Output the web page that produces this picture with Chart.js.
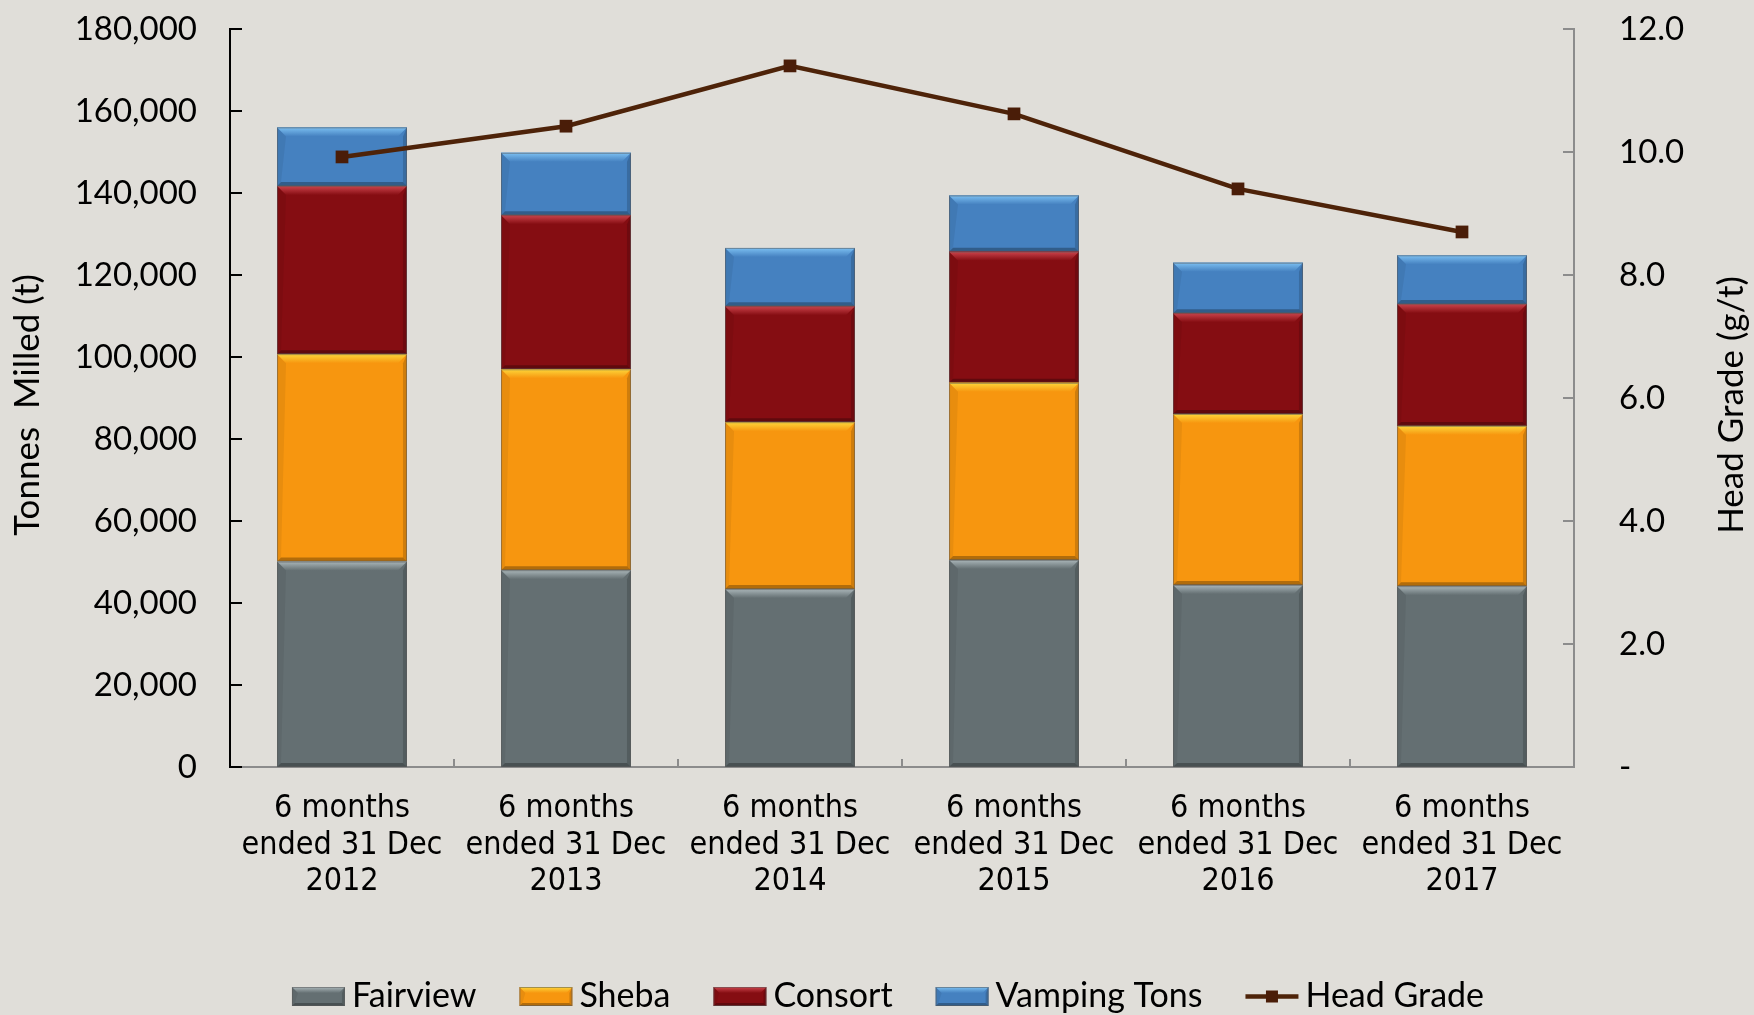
<!DOCTYPE html>
<html><head><meta charset="utf-8">
<script src="https://cdn.jsdelivr.net/npm/chart.js@4.4.1/dist/chart.umd.min.js"></script>
<style>html,body{margin:0;padding:0;background:#e0ded9;overflow:hidden}canvas{display:block}</style>
</head><body>
<canvas id="c" width="1754" height="1015" style="width:1754px;height:1015px"></canvas>
<script>
// ---- data ----
const categories = [
  ["6 months", "ended 31 Dec", "2012"],
  ["6 months", "ended 31 Dec", "2013"],
  ["6 months", "ended 31 Dec", "2014"],
  ["6 months", "ended 31 Dec", "2015"],
  ["6 months", "ended 31 Dec", "2016"],
  ["6 months", "ended 31 Dec", "2017"]
];
const fairview = [50100, 48000, 43400, 50500, 44400, 44100];
const sheba    = [50600, 49000, 40700, 43200, 41700, 39100];
const consort  = [41000, 37600, 28300, 32000, 24600, 29700];
const vamping  = [14300, 15200, 14200, 13700, 12300, 11900];
const headGrade = [9.92, 10.42, 11.40, 10.62, 9.40, 8.70];
const seriesNames = ["Fairview", "Sheba", "Consort", "Vamping Tons", "Head Grade"];
const leftTitle = "Tonnes  Milled (t)";
const rightTitle = "Head Grade (g/t)";

const GILL = "Lato, 'Open Sans', sans-serif";
const NARROW = "'DejaVu Sans Condensed', 'Liberation Sans Narrow', sans-serif";

function poly(ctx, pts) {
  ctx.beginPath(); ctx.moveTo(pts[0][0], pts[0][1]);
  for (let i = 1; i < pts.length; i++) ctx.lineTo(pts[i][0], pts[i][1]);
  ctx.closePath(); ctx.fill();
}
function bevelBox(ctx, L, T, R, B, base, hi, bt, bs) {
  ctx.save();
  ctx.fillStyle = base; ctx.fillRect(L, T, R - L, B - T);
  const g = ctx.createLinearGradient(0, T, 0, T + bt);
  g.addColorStop(0, hi); g.addColorStop(1, base);
  ctx.fillStyle = g; poly(ctx, [[L, T], [R, T], [R - bt, T + bt], [L + bt, T + bt]]);
  ctx.fillStyle = 'rgba(0,0,0,0.16)'; poly(ctx, [[R, T], [R, B], [R - bs, B - bs], [R - bs, T + bt]]);
  ctx.fillStyle = 'rgba(0,0,0,0.28)'; poly(ctx, [[L, B], [R, B], [R - bs, B - bs], [L + bs, B - bs]]);
  ctx.fillStyle = 'rgba(0,0,0,0.06)'; poly(ctx, [[L, T], [L + bt, T + bt], [L + bs, B - bs], [L, B]]);
  ctx.strokeStyle = 'rgba(90,90,90,0.55)'; ctx.lineWidth = 1;
  ctx.strokeRect(L + 0.5, T + 0.5, R - L - 1, B - T - 1);
  ctx.restore();
}

const bgPlugin = {
  id: 'bg',
  beforeDraw(chart) {
    const ctx = chart.ctx; ctx.save(); ctx.fillStyle = '#e0ded9';
    ctx.fillRect(0, 0, chart.width, chart.height); ctx.restore();
  }
};

const bevelPlugin = {
  id: 'bevel',
  afterDatasetDraw(chart, args) {
    const meta = args.meta; if (meta.type !== 'bar') return;
    const ds = chart.data.datasets[args.index];
    const ctx = chart.ctx;
    meta.data.forEach(el => {
      const p = el.getProps(['x', 'y', 'base', 'width'], true);
      const L = p.x - p.width / 2, R = p.x + p.width / 2;
      const T = Math.min(p.y, p.base), B = Math.max(p.y, p.base);
      bevelBox(ctx, L, T, R, B, ds.backgroundColor, ds.hiColor, 9, 4);
    });
  }
};

const decorPlugin = {
  id: 'decor',
  afterDraw(chart) {
    const ctx = chart.ctx, a = chart.chartArea;
    const y = chart.scales.y, y1 = chart.scales.y1, x = chart.scales.x;
    ctx.save();
    // left ticks (inside)
    ctx.strokeStyle = '#000'; ctx.lineWidth = 2;
    y.ticks.forEach(t => { const py = Math.round(y.getPixelForValue(t.value)); ctx.beginPath(); ctx.moveTo(a.left, py); ctx.lineTo(a.left + 12, py); ctx.stroke(); });
    // right ticks (inside)
    ctx.strokeStyle = '#8c8c8c';
    y1.ticks.forEach(t => { const py = Math.round(y1.getPixelForValue(t.value)); ctx.beginPath(); ctx.moveTo(a.right, py); ctx.lineTo(a.right - 11, py); ctx.stroke(); });
    // category boundary ticks
    for (let i = 1; i < categories.length; i++) {
      const px = Math.round((x.getPixelForTick(i - 1) + x.getPixelForTick(i)) / 2);
      ctx.beginPath(); ctx.moveTo(px, a.bottom); ctx.lineTo(px, a.bottom - 8); ctx.stroke();
    }
    // axis titles
    ctx.fillStyle = '#000'; ctx.font = '35px ' + GILL; ctx.textAlign = 'center'; ctx.textBaseline = 'middle';
    ctx.save(); ctx.translate(28, 405); ctx.rotate(-Math.PI / 2); ctx.fillText(leftTitle, 0, 0); ctx.restore();
    ctx.save(); ctx.translate(1732, 405); ctx.rotate(-Math.PI / 2); ctx.fillText(rightTitle, 0, 0); ctx.restore();
    // legend
    ctx.font = '34px ' + GILL; ctx.textAlign = 'left'; ctx.textBaseline = 'alphabetic';
    const ds = chart.data.datasets;
    const order = [0, 1, 2, 3, 4];
    const boxW = 53, gap = 7, spacing = 43;
    const widths = order.map(i => boxW + gap + ctx.measureText(ds[i].label).width);
    const total = widths.reduce((s, w) => s + w, 0) + spacing * (order.length - 1);
    let lx = 888 - total / 2;
    const cy = 996.5;
    order.forEach((i, k) => {
      const d = ds[i];
      if (d.type === 'line') {
        ctx.strokeStyle = d.borderColor; ctx.lineWidth = 4.5;
        ctx.beginPath(); ctx.moveTo(lx, cy); ctx.lineTo(lx + boxW, cy); ctx.stroke();
        ctx.fillStyle = d.pointBackgroundColor; ctx.fillRect(lx + boxW / 2 - 6, cy - 6, 12, 12);
      } else {
        bevelBox(ctx, lx, cy - 9.5, lx + boxW, cy + 9.5, d.backgroundColor, d.hiColor, 6, 3);
      }
      ctx.fillStyle = '#000';
      ctx.fillText(d.label, lx + boxW + gap, 1007);
      lx += widths[k] + spacing;
    });
    ctx.restore();
  }
};

const barCommon = { type: 'bar', yAxisID: 'y', stack: 's', order: 2, borderWidth: 0, categoryPercentage: 1.0, barPercentage: 0.58 };

new Chart(document.getElementById('c'), {
  data: {
    labels: categories,
    datasets: [
      Object.assign({}, barCommon, { label: seriesNames[0], data: fairview, backgroundColor: '#646f72', hiColor: '#aab6b9' }),
      Object.assign({}, barCommon, { label: seriesNames[1], data: sheba, backgroundColor: '#f7960f', hiColor: '#fdd63a' }),
      Object.assign({}, barCommon, { label: seriesNames[2], data: consort, backgroundColor: '#850d12', hiColor: '#cc444c' }),
      Object.assign({}, barCommon, { label: seriesNames[3], data: vamping, backgroundColor: '#4581c0', hiColor: '#7cc0f2' }),
      { type: 'line', label: seriesNames[4], data: headGrade, yAxisID: 'y1', order: 1,
        borderColor: '#4e2309', borderWidth: 4.5, tension: 0, fill: false,
        pointStyle: 'rect', pointRadius: 9, pointBackgroundColor: '#4a1d08', pointBorderWidth: 0 }
    ]
  },
  options: {
    responsive: false, animation: false, devicePixelRatio: 1,
    layout: { padding: { top: 29, bottom: 0, left: 0, right: 0 } },
    plugins: { legend: { display: false }, tooltip: { enabled: false } },
    scales: {
      x: {
        stacked: true,
        grid: { display: false, drawTicks: false },
        border: { display: true, color: '#8c8c8c', width: 2 },
        ticks: { color: '#000', font: { family: NARROW, size: 32, lineHeight: 1.15 }, padding: 23, maxRotation: 0, autoSkip: false },
        afterFit(s) { s.height = 248; s.paddingLeft = 0; s.paddingRight = 0; }
      },
      y: {
        stacked: true, position: 'left', min: 0, max: 180000,
        grid: { display: false, drawTicks: false },
        border: { display: true, color: '#000', width: 2 },
        ticks: { stepSize: 20000, color: '#000', padding: 33, font: { family: GILL, size: 33 },
          callback: v => v.toLocaleString('en-US') },
        afterFit(s) { s.width = 230; s.paddingTop = 0; s.paddingBottom = 0; }
      },
      y1: {
        position: 'right', min: 0, max: 12,
        grid: { display: false, drawTicks: false },
        border: { display: true, color: '#8c8c8c', width: 2 },
        ticks: { stepSize: 2, color: '#000', padding: 45, font: { family: GILL, size: 33 },
          callback: v => v === 0 ? '-' : v.toFixed(1) },
        afterFit(s) { s.width = 180; s.paddingTop = 0; s.paddingBottom = 0; }
      }
    }
  },
  plugins: [bgPlugin, bevelPlugin, decorPlugin]
});
</script>
</body></html>
